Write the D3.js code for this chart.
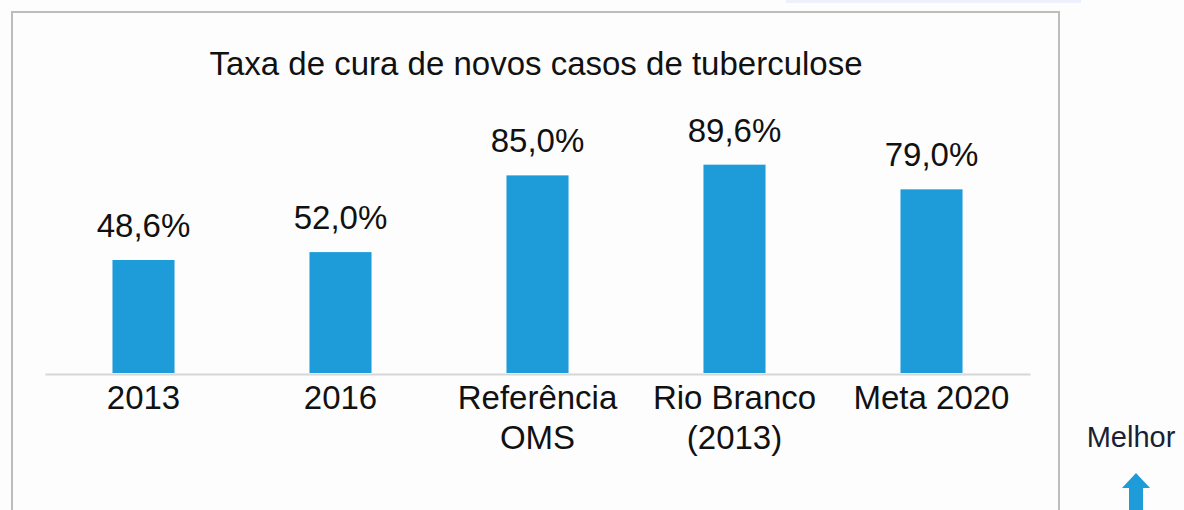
<!DOCTYPE html>
<html>
<head>
<meta charset="utf-8">
<script src="https://cdn.jsdelivr.net/npm/d3@7"></script>
<style>
  html, body { margin: 0; padding: 0; background: #fdfdfd; }
  svg { display: block; font-family: "Liberation Sans", Arial, sans-serif; }
</style>
</head>
<body>
<div id="chart"></div>
<script>
// data
var categories = [["2013"], ["2016"], ["Referência", "OMS"], ["Rio Branco", "(2013)"], ["Meta 2020"]];
var values = [48.6, 52.0, 85.0, 89.6, 79.0];
var valueLabels = ["48,6%", "52,0%", "85,0%", "89,6%", "79,0%"];
var title = "Taxa de cura de novos casos de tuberculose";

var W = 1184, H = 510;
var svg = d3.select('#chart').append('svg')
    .attr('width', W)
    .attr('height', H);

// faint strip at top
svg.append('rect')
    .attr('x', 786).attr('y', 0)
    .attr('width', 295).attr('height', 3)
    .attr('fill', '#eef0fb');

// box around chart
svg.append('rect')
    .attr('x', 12).attr('y', 12)
    .attr('width', 1047).attr('height', 506)
    .attr('fill', '#fdfdfd')
    .attr('stroke', '#bdbdbd')
    .attr('stroke-width', 2);

svg.append('text')
    .attr('x', 536)
    .attr('y', 75)
    .attr('text-anchor', 'middle')
    .attr('font-size', 33)
    .attr('fill', '#111')
    .text(title);

var idx = d3.range(values.length);

var xScale = d3.scaleBand()
    .domain(idx)
    .range([45, 1030])
    .paddingInner(0.685)
    .paddingOuter(0.3425);

var yScale = d3.scaleLinear()
    .domain([0, 100])
    .range([373, 140.5]);

svg.selectAll('.bar')
    .data(idx)
    .enter()
    .append('rect')
    .attr('class', 'bar')
    .attr('x', d => xScale(d))
    .attr('y', d => yScale(values[d]))
    .attr('width', xScale.bandwidth())
    .attr('height', d => yScale(0) - yScale(values[d]))
    .attr('fill', '#1e9cd9');

// baseline
var xAxis = d3.axisBottom(xScale).tickSize(0).tickFormat('');
var axisG = svg.append('g')
    .attr('transform', `translate(0,${yScale(0) + 1})`)
    .call(xAxis);
axisG.select('.domain').attr('stroke', '#d6d6d6').attr('stroke-width', 2);

svg.selectAll('.val')
    .data(idx)
    .enter()
    .append('text')
    .attr('class', 'val')
    .attr('x', d => xScale(d) + xScale.bandwidth() / 2)
    .attr('y', d => yScale(values[d]) - 23)
    .attr('text-anchor', 'middle')
    .attr('font-size', 33)
    .attr('fill', '#111')
    .text(d => valueLabels[d]);

var cat = svg.selectAll('.cat')
    .data(idx)
    .enter()
    .append('text')
    .attr('class', 'cat')
    .attr('text-anchor', 'middle')
    .attr('font-size', 33)
    .attr('fill', '#111');

cat.selectAll('tspan')
    .data(d => categories[d].map(t => ({i: d, t: t})))
    .enter()
    .append('tspan')
    .attr('x', d => xScale(d.i) + xScale.bandwidth() / 2)
    .attr('y', (d, j) => 409 + j * 40)
    .text(d => d.t);

// "Melhor" with arrow
svg.append('text')
    .attr('x', 1131)
    .attr('y', 447)
    .attr('text-anchor', 'middle')
    .attr('font-size', 29)
    .attr('fill', '#1a1f33')
    .text('Melhor');

svg.append('path')
    .attr('d', 'M1136,473 L1150,488 L1143,488 L1143,512 L1129,512 L1129,488 L1122,488 Z')
    .attr('fill', '#1e9cd9');
</script>
</body>
</html>
